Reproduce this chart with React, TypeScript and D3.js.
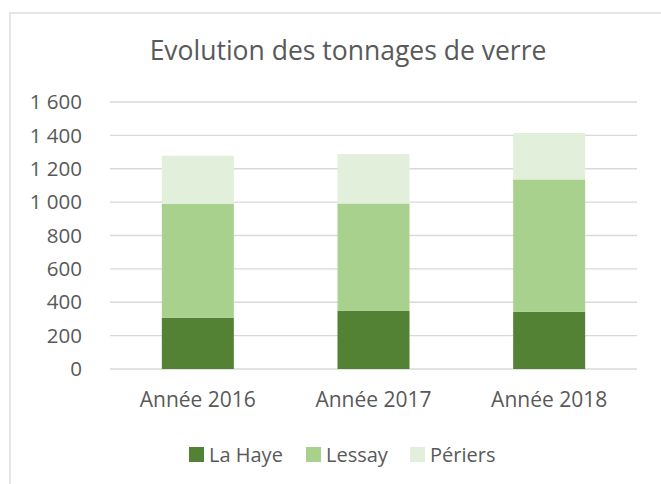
import React from "react";
import * as d3 from "d3";

const categories = ["Année 2016", "Année 2017", "Année 2018"];
const seriesNames = ["La Haye", "Lessay", "Périers"];
const laHaye = [308, 350, 342];
const lessay = [682, 642, 794];
const periers = [288, 296, 278];
const yTicks = [0, 200, 400, 600, 800, 1000, 1200, 1400, 1600];
const colors = ["#548235", "#a9d18e", "#e2efda"];

const W = 661;
const H = 484;
const FONT = "'Open Sans', 'Noto Sans', sans-serif";
const TEXT = "#595959";

export default function App() {
  const x = d3
    .scaleBand<string>()
    .domain(categories)
    .range([110, 637])
    .paddingInner(0.59)
    .paddingOuter(0.295);
  const y = d3.scaleLinear().domain([0, 1600]).range([369, 102]);

  const rows = categories.map((c, i) => ({
    cat: c,
    "La Haye": laHaye[i],
    Lessay: lessay[i],
    "Périers": periers[i],
  }));
  const stacked = d3.stack<any>().keys(seriesNames)(rows);
  const fmt = (v: number) => d3.format(",")(v).replace(/,/g, " ");

  const legendX = [189, 306, 410];

  return (
    <svg
      width={W}
      height={H}
      style={{ position: "absolute", left: 0, top: 0, background: "#fff" }}
      fontFamily={FONT}
    >
      <rect x={0} y={0} width={W} height={H} fill="#fff" />
      <rect x={10} y={13} width={W} height={H} fill="#fff" stroke="#d9d9d9" strokeWidth={1.3} />
      <text x={348} y={60} textAnchor="middle" fontSize={26.5} fill={TEXT}>
        Evolution des tonnages de verre
      </text>
      {yTicks.map((t) => (
        <g key={t}>
          <line x1={110} x2={637} y1={y(t)} y2={y(t)} stroke="#d9d9d9" strokeWidth={1.3} />
          <text x={82} y={y(t)} dy="0.35em" textAnchor="end" fontSize={20.5} fill={TEXT}>
            {fmt(t)}
          </text>
        </g>
      ))}
      {stacked.map((s, si) => (
        <g key={s.key} fill={colors[si]}>
          {s.map((d, i) => (
            <rect
              key={i}
              x={x(categories[i])}
              width={x.bandwidth()}
              y={y(d[1])}
              height={y(d[0]) - y(d[1])}
            />
          ))}
        </g>
      ))}
      {categories.map((c) => (
        <text
          key={c}
          x={(x(c) as number) + x.bandwidth() / 2}
          y={407}
          textAnchor="middle"
          fontSize={21}
          fill={TEXT}
        >
          {c}
        </text>
      ))}
      {seriesNames.map((n, i) => (
        <g key={n}>
          <rect x={legendX[i]} y={447} width={15} height={15} fill={colors[i]} />
          <text x={legendX[i] + 20} y={462} fontSize={20} fill={TEXT}>
            {n}
          </text>
        </g>
      ))}
    </svg>
  );
}
